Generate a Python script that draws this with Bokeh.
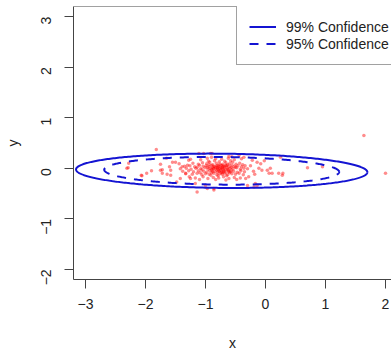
import numpy as np
from bokeh.plotting import figure
from bokeh.models import FixedTicker, Span, Legend, LegendItem
from bokeh.embed import file_html
from bokeh.resources import INLINE

# ---------------- data ----------------
x_ticks = [-3, -2, -1, 0, 1, 2]
y_ticks = [-2, -1, 0, 1, 2, 3]

pts_x = [
    -1.21, -1.12, -1.05, -0.98, -0.93, -0.88, -0.82, -0.77, -0.71, -0.66, -0.60, -0.55, -0.49, -0.43, -0.38, -1.30, -0.95, -0.85, -0.68, -0.58,
    -1.35, -1.26, -1.18, -1.10, -1.04, -0.99, -0.94, -0.90, -0.86, -0.81, -0.78, -0.74, -0.70, -0.65, -0.61, -0.56, -0.52, -0.46, -0.40, -0.34, -1.14, -0.88, -0.72, -0.63, -0.50,
    -1.42, -1.32, -1.24, -1.16, -1.08, -1.01, -0.96, -0.92, -0.87, -0.83, -0.79, -0.76, -0.73, -0.69, -0.64, -0.59, -0.54, -0.48, -0.42, -0.36, -0.30, -0.97, -0.80, -0.67, -0.57, -1.06, -0.89, -0.75,
    -1.38, -1.28, -1.20, -1.12, -1.03, -0.98, -0.93, -0.88, -0.84, -0.80, -0.77, -0.73, -0.70, -0.66, -0.62, -0.58, -0.53, -0.47, -0.41, -0.35, -0.90, -0.71, -0.60, -1.09,
    -1.33, -1.22, -1.14, -1.06, -1.00, -0.94, -0.86, -0.81, -0.76, -0.72, -0.68, -0.63, -0.56, -0.50, -0.44, -0.37, -0.91, -0.79, -0.65,
    -1.27, -1.17, -1.04, -0.96, -0.87, -0.78, -0.70, -0.61, -0.52, -0.42, -1.10, -0.83, -0.66, -0.48,
    -1.25, -1.08, -0.97, -0.83, -0.73, -0.62, -0.52, -0.40, -0.90, -0.56,
    -0.84, -0.79, -0.75, -0.71, -0.68, -0.64, -0.62, -0.82, -0.86, -0.78, -0.74, -0.69, -0.66, -0.72, -0.80, -0.76, -0.90, -0.94, -0.61, -0.57,
    -2.28, -2.31, -2.29, -2.07, -2.06, -1.98, -1.82, -1.75, -1.72, -1.64, -1.58, -1.55, -1.75, -1.72, -1.58, -1.42, -1.50, -1.44, -1.39, -1.28,
    -1.33, -1.25, -1.17, -1.11, -1.03, -0.92, -0.89, -1.00, -0.86, -1.14, -0.86, -0.97, -0.61, -0.44, -0.36, -0.22, -0.14, -0.11, -0.06, 0.03,
    0.08, -0.18, -0.28, -0.33, -0.14, -0.19, -0.17, -0.30, -0.08, 0.25, 0.11, 0.22, 0.28, 0.06, 0.29, 0.70, 0.95, 1.64, 2.00, -1.90,
    -1.65, -1.48, -0.02, -0.25, -0.20, -1.60,
]
pts_y = [
    0.10, 0.08, 0.11, 0.09, 0.12, 0.07, 0.10, 0.13, 0.08, 0.11, 0.09, 0.12, 0.08, 0.10, 0.07, 0.06, 0.14, 0.15, 0.14, 0.15,
    0.04, 0.05, 0.03, 0.06, 0.04, 0.05, 0.03, 0.06, 0.04, 0.05, 0.03, 0.06, 0.04, 0.05, 0.03, 0.06, 0.04, 0.05, 0.03, 0.05, 0.02, 0.02, 0.01, 0.07, 0.02,
    -0.01, 0.00, -0.02, 0.00, -0.01, 0.01, -0.02, 0.00, -0.01, 0.01, -0.02, 0.00, -0.01, 0.01, -0.02, 0.00, -0.01, 0.01, -0.02, 0.00, -0.01, 0.02, 0.02, -0.03, 0.02, -0.03, -0.04, -0.04,
    -0.06, -0.05, -0.07, -0.05, -0.06, -0.08, -0.05, -0.07, -0.06, -0.08, -0.05, -0.07, -0.06, -0.08, -0.05, -0.07, -0.06, -0.08, -0.05, -0.07, -0.09, -0.09, -0.09, -0.09,
    -0.11, -0.12, -0.10, -0.13, -0.11, -0.12, -0.10, -0.13, -0.11, -0.12, -0.10, -0.13, -0.11, -0.12, -0.10, -0.13, -0.14, -0.15, -0.15,
    -0.17, -0.19, -0.17, -0.20, -0.18, -0.19, -0.17, -0.20, -0.18, -0.19, -0.22, -0.22, -0.23, -0.22,
    0.18, 0.17, 0.20, 0.19, 0.18, 0.20, 0.17, 0.19, 0.22, 0.23,
    0.03, 0.06, 0.02, -0.02, 0.03, 0.01, -0.03, -0.03, 0.00, -0.06, -0.09, -0.05, 0.06, 0.05, -0.01, 0.08, -0.02, 0.07, -0.07, -0.04,
    0.10, 0.00, 0.01, -0.14, -0.15, -0.10, 0.37, 0.08, -0.03, -0.12, -0.04, 0.12, -0.04, -0.10, -0.14, -0.20, 0.12, 0.09, 0.03, 0.16,
    -0.10, -0.20, -0.30, 0.29, 0.29, 0.29, 0.29, -0.34, -0.40, -0.47, -0.43, -0.40, 0.24, 0.26, 0.22, 0.16, 0.12, 0.00, -0.04, -0.04,
    0.00, -0.12, -0.17, -0.20, -0.34, -0.37, -0.30, -0.34, 0.09, 0.22, -0.10, -0.10, -0.14, -0.10, -0.10, 0.01, 0.03, 0.65, -0.10, -0.05,
    0.20, -0.27, 0.15, 0.05, -0.06, 0.03,
]

# ellipse parameters (mean, spread, correlation) and confidence levels
ell_center = [-0.73, -0.05]
ell_sd = [0.80, 0.112]
ell_rho = -0.08
levels = ["99% Confidence", "95% Confidence"]
chi2_q = [9.210, 5.991]   # chi-square quantiles, 2 df
dashes = ["solid", "9 8"]

# ---------------- figure ----------------
p = figure(width=391, height=354, output_backend="svg", toolbar_location=None,
           x_range=(-3.2, 2.1), y_range=(-2.2, 3.2),
           min_border_left=73, min_border_right=0, min_border_top=6, min_border_bottom=75)
p.grid.visible = False
p.outline_line_color = None
p.background_fill_color = "white"
p.border_fill_color = "white"

FONT = "Liberation Sans"
for ax in (p.xaxis[0], p.yaxis[0]):
    ax.axis_line_color = "#444444"
    ax.major_tick_line_color = "#444444"
    ax.major_tick_out = 9
    ax.major_tick_in = 0
    ax.minor_tick_line_color = None
    ax.major_label_text_font = FONT
    ax.major_label_text_font_size = "14px"
    ax.major_label_text_color = "#222222"
    ax.axis_label_text_font = FONT
    ax.axis_label_text_font_size = "14px"
    ax.axis_label_text_font_style = "normal"
    ax.axis_label_text_color = "#222222"

p.xaxis.ticker = FixedTicker(ticks=x_ticks)
p.yaxis.ticker = FixedTicker(ticks=y_ticks)
p.xaxis.axis_label = "x"
p.yaxis.axis_label = "y"
p.xaxis.major_label_standoff = 10
p.xaxis.axis_label_standoff = 23
p.yaxis.major_label_standoff = 18
p.yaxis.axis_label_standoff = 13
p.yaxis.major_label_orientation = np.pi / 2

# top border of box
p.add_layout(Span(location=3.2, dimension="width", line_color="#444444", line_width=1))

# points
p.scatter(pts_x, pts_y, size=3.5, fill_color="#ff0000", fill_alpha=0.45, line_color=None)

# ellipses
t = np.linspace(0, 2 * np.pi, 400)
items = []
for lab, q, dash in zip(levels, chi2_q, dashes):
    r = np.sqrt(q)
    ex = ell_center[0] + r * ell_sd[0] * np.cos(t)
    ey = ell_center[1] + r * ell_sd[1] * (ell_rho * np.cos(t) + np.sqrt(1 - ell_rho ** 2) * np.sin(t))
    g = p.line(ex, ey, line_color="#1414d2", line_width=2, line_dash=dash)
    items.append(LegendItem(label=lab, renderers=[g]))

legend = Legend(items=items, location=(163, 214), padding=12, spacing=0,
                glyph_width=27, glyph_height=17, label_standoff=10,
                label_text_font=FONT, label_text_font_size="14px", label_text_color="#222222",
                border_line_color="#444444", border_line_width=1,
                background_fill_color="white", background_fill_alpha=1.0, margin=0)
p.add_layout(legend)

open("out.html", "w").write(file_html(p, INLINE))
